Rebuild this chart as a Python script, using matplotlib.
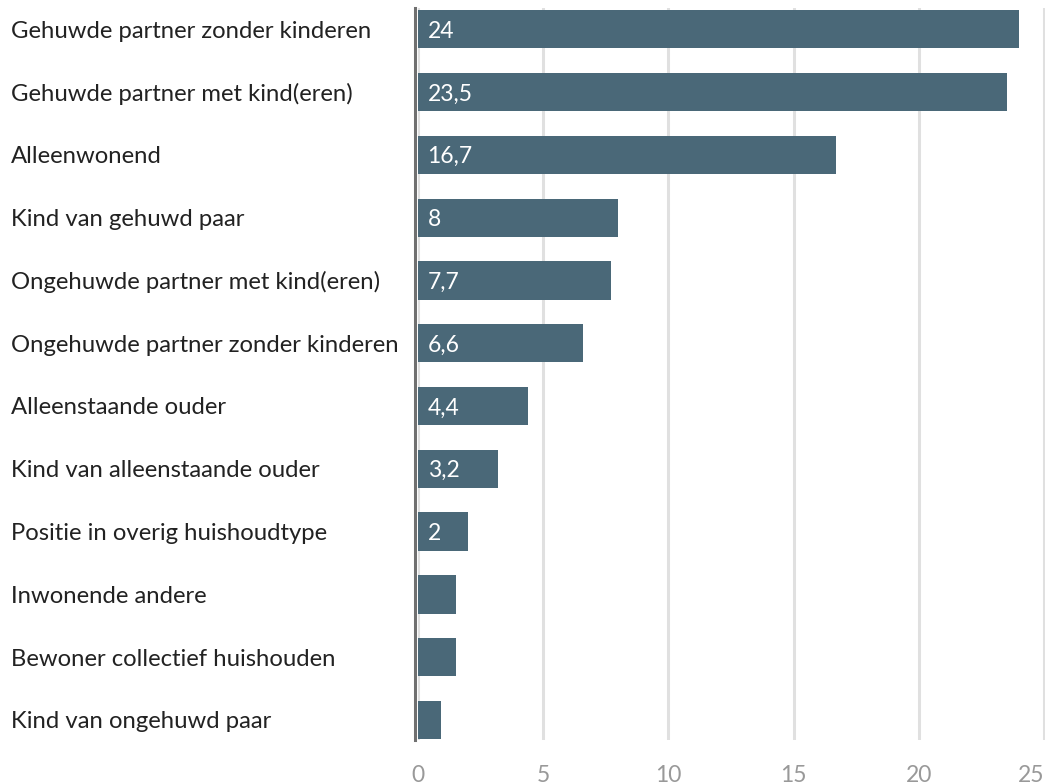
import matplotlib.pyplot as plt

plt.rcParams['font.family'] = ['Lato', 'DejaVu Sans']

# categorieën en waarden (%)
categorieen = ['Gehuwde partner zonder kinderen', 'Gehuwde partner met kind(eren)',
               'Alleenwonend', 'Kind van gehuwd paar', 'Ongehuwde partner met kind(eren)',
               'Ongehuwde partner zonder kinderen', 'Alleenstaande ouder',
               'Kind van alleenstaande ouder', 'Positie in overig huishoudtype',
               'Inwonende andere', 'Bewoner collectief huishouden', 'Kind van ongehuwd paar']
waarden = [24, 23.5, 16.7, 8, 7.7, 6.6, 4.4, 3.2, 2, 1.5, 1.5, 0.9]
labels = ['24', '23,5', '16,7', '8', '7,7', '6,6', '4,4', '3,2', '2', '', '', '']
xticks = [0, 5, 10, 15, 20, 25]

kleur = '#4a6878'

fig = plt.figure(figsize=(10.48, 7.84), dpi=100)
ax = fig.add_axes([418/1048, 44/784, 627/1048, 732/784])

y = range(len(categorieen))
ax.barh(y, waarden, height=0.61, color=kleur, zorder=3)

for i, lab in enumerate(labels):
    if lab:
        ax.text(0.38, i + 0.03, lab, color='white', fontsize=16.5, va='center', ha='left', zorder=4)

# categorie-labels links uitgelijnd
trans = ax.get_yaxis_transform()
for i, cat in enumerate(categorieen):
    ax.text(-407/627, i + 0.03, cat, transform=trans, fontsize=17.2, color='#222222',
            va='center', ha='left', clip_on=False)

ax.set_xlim(0, 25.03)
ax.set_ylim(11.32, -0.34)
ax.set_yticks([])
ax.set_xticks(xticks)
ax.set_xticklabels([str(t) for t in xticks], fontsize=16.5, color='#999999')
ax.tick_params(axis='x', length=0, pad=18)
ax.get_xticklabels()[-1].set_ha('right')

ax.grid(axis='x', color='#e0e0e0', linewidth=2.2, zorder=0)
for s in ['top', 'right', 'bottom']:
    ax.spines[s].set_visible(False)
ax.spines['left'].set_color('#707070')
ax.spines['left'].set_linewidth(2.2)
ax.spines['left'].set_position(('outward', 2.5))
ax.spines['left'].set_zorder(5)

fig.savefig('out.png', dpi=100)
